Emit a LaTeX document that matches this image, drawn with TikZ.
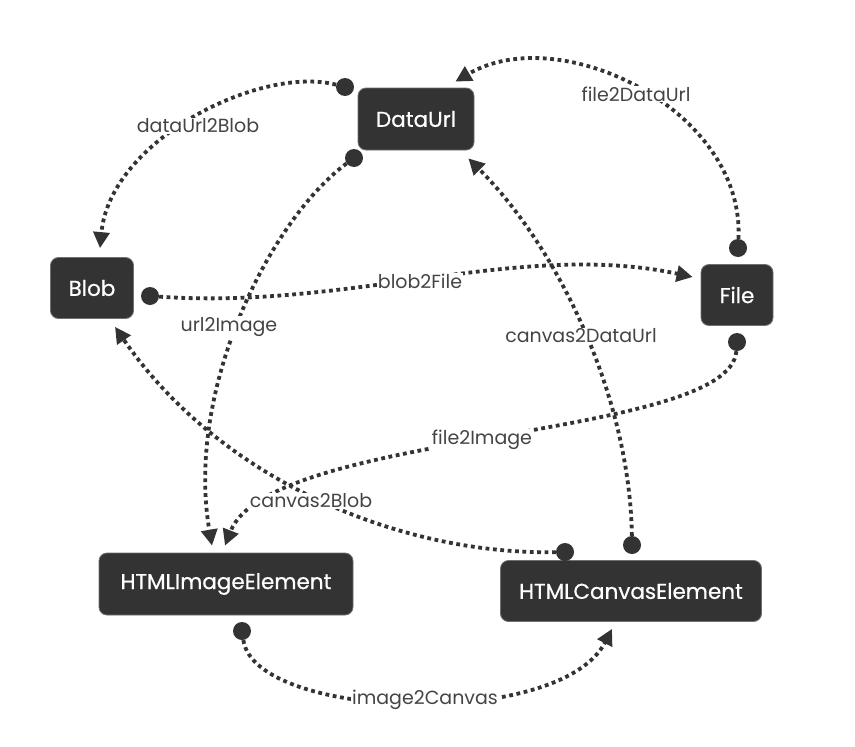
\documentclass[tikz,border=0pt]{standalone}
\usepackage{fontspec}
\setmainfont{Poppins}
\newfontfamily\boxfont{Poppins}[FakeBold=0.6]
\usetikzlibrary{arrows.meta}
\definecolor{ink}{HTML}{333333}
\definecolor{lbl}{HTML}{444444}
\begin{document}
\begin{tikzpicture}[x=1pt,y=-1pt,
 box/.style={fill=ink, draw=ink!70!white, line width=0.8pt, rounded corners=8pt, text=white, font=\boxfont\fontsize{21.5}{24}\selectfont, inner sep=0pt},
 dot/.style={circle, fill=ink, minimum size=18pt, inner sep=0pt},
 conn/.style={draw=ink, line width=3.8pt, dash pattern=on 3.8pt off 3.6pt, -{Triangle[length=16pt,width=16pt]}},
 lab/.style={fill=white, text=lbl, font=\fontsize{19}{22}\selectfont, inner sep=1pt}]
\useasboundingbox[fill=white] (0,0) rectangle (855,747);

% boxes
\node[box, minimum width=116pt, minimum height=62pt] (dataurl) at (416,119) {DataUrl};
\node[box, minimum width=83pt, minimum height=61pt] (blob) at (92,288) {Blob};
\node[box, minimum width=72pt, minimum height=61pt] (file) at (737,295) {File};
\node[box, minimum width=254pt, minimum height=62pt] (img) at (226,584) {HTMLImageElement};
\node[box, minimum width=261pt, minimum height=61pt] (canvas) at (631,591) {HTMLCanvasElement};

% dots
\node[dot] (d1) at (345,87) {};
\node[dot] (d2) at (354,158) {};
\node[dot] (d3) at (738,248) {};
\node[dot] (d4) at (150,296) {};
\node[dot] (d5) at (632,545) {};
\node[dot] (d6) at (737,342) {};
\node[dot] (d7) at (565,552) {};
\node[dot] (d8) at (242,631) {};

% connectors
\draw[conn] (d1) .. controls (260,65) and (110,140) .. ([xshift=8pt,yshift=9pt]blob.north);
\draw[conn] (d2) .. controls (270,220) and (185,390) .. ([xshift=-14pt,yshift=7pt]img.north);
\draw[conn] (d3) .. controls (745,110) and (560,20) .. ([xshift=-19pt,yshift=6pt]dataurl.north east);
\draw[conn] (d4) .. controls (350,310) and (520,240) .. ([xshift=-8pt,yshift=18pt]file.west);
\draw[conn] (d5) .. controls (630,400) and (560,250) .. ([xshift=-6pt,yshift=-8pt]dataurl.south east);
\draw[conn] (d6) .. controls (730,440) and (270,430) .. ([xshift=-1pt,yshift=7pt]img.north);
\draw[conn] (d7) .. controls (400,555) and (220,480) .. ([xshift=23pt,yshift=-8pt]blob.south);
\draw[conn] (d8) .. controls (255,720) and (560,730) .. ([xshift=-19pt,yshift=-7pt]canvas.south);

% labels
\node[lab] (l1) at (198,126) {dataUrl2Blob};
\node[lab] (l2) at (229,327) {url2Image};
\node[lab] (l3) at (636,94) {file2DataUrl};
\node[lab] (l4) at (420,281) {blob2File};
\node[lab] (l5) at (581,336) {canvas2DataUrl};
\node[lab] (l6) at (482,440) {file2Image};
\node[lab] (l7) at (311,501) {canvas2Blob};
\node[lab] (l8) at (425,700) {image2Canvas};
\end{tikzpicture}
\end{document}
